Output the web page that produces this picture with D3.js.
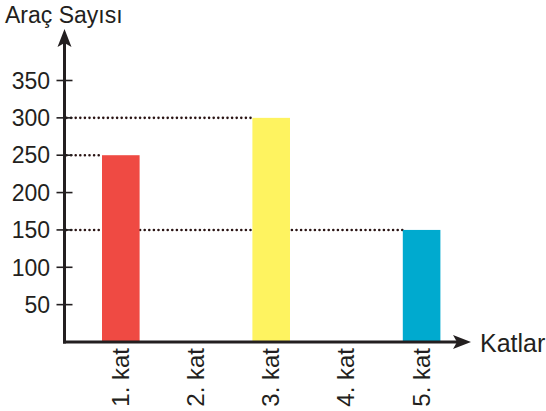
<!DOCTYPE html>
<html><head><meta charset="utf-8">
<script src="https://cdn.jsdelivr.net/npm/d3@7"></script>
<style>body{margin:0;background:#fff}svg{display:block}text{font-family:"Liberation Sans",Arial,sans-serif;fill:#231f20}</style>
</head><body>
<script>
const categories = ["1. kat","2. kat","3. kat","4. kat","5. kat"];
const values = [250, 0, 300, 0, 150];
const colors = ["#ef4a43", "#fef360", "#fef360", "#fef360", "#00aacf"];
const yTicks = [50,100,150,200,250,300,350];
const yTitle = "Araç Sayısı";
const xTitle = "Katlar";

const W = 546, H = 411;
const svg = d3.select("body").append("svg").attr("width", W).attr("height", H);
const axisColor = "#231f20";
const x0 = 64.5, y0 = 342;
const x = d3.scaleBand().domain(categories).range([64.4, 478]).paddingInner(0.5).paddingOuter(0.5);
const y = d3.scaleLinear().domain([0, 350]).range([y0, 80.5]);

// dotted guide lines (under bars)
values.forEach((v, i) => {
  if (v <= 0) return;
  svg.append("line")
    .attr("x1", x0 + 2).attr("x2", x(categories[i]))
    .attr("y1", y(v)).attr("y2", y(v))
    .attr("stroke", "#2a1414").attr("stroke-width", 2.6)
    .attr("stroke-dasharray", "0 4.6").attr("stroke-linecap", "round");
});

// bars
svg.selectAll("rect.bar").data(categories.map((c, i) => ({c, v: values[i], col: colors[i]})).filter(d => d.v > 0))
  .enter().append("rect").attr("class", "bar")
  .attr("x", d => x(d.c)).attr("width", x.bandwidth())
  .attr("y", d => y(d.v)).attr("height", d => y0 - y(d.v))
  .attr("fill", d => d.col);

// y axis line
svg.append("line").attr("x1", x0).attr("x2", x0).attr("y1", y0 + 1.5).attr("y2", 40)
  .attr("stroke", axisColor).attr("stroke-width", 3);
svg.append("path").attr("d", `M${x0},29 L${x0-7},47 L${x0},43 L${x0+7},47 Z`).attr("fill", axisColor);
// x axis line
svg.append("line").attr("x1", x0 - 1.5).attr("x2", 462).attr("y1", y0).attr("y2", y0)
  .attr("stroke", axisColor).attr("stroke-width", 3);
svg.append("path").attr("d", `M471,${y0} L453,${y0-7} L457,${y0} L453,${y0+7} Z`).attr("fill", axisColor);

// y ticks
const g = svg.append("g");
yTicks.forEach(t => {
  g.append("line").attr("x1", x0 - 8).attr("x2", x0 + 8).attr("y1", y(t)).attr("y2", y(t))
    .attr("stroke", axisColor).attr("stroke-width", 1.6);
  g.append("text").attr("x", 50).attr("y", y(t)).attr("dy", "0.36em")
    .attr("text-anchor", "end").attr("font-size", 23).text(t);
});

// category labels
categories.forEach(c => {
  const cx = x(c) + x.bandwidth() / 2;
  svg.append("text")
    .attr("transform", `translate(${cx + 8},348) rotate(-90)`)
    .attr("text-anchor", "end").attr("font-size", 24).text(c);
});

svg.append("text").attr("x", 5).attr("y", 23).attr("font-size", 23).text(yTitle);
svg.append("text").attr("x", 480).attr("y", 352).attr("font-size", 25).text(xTitle);
</script>
</body></html>
